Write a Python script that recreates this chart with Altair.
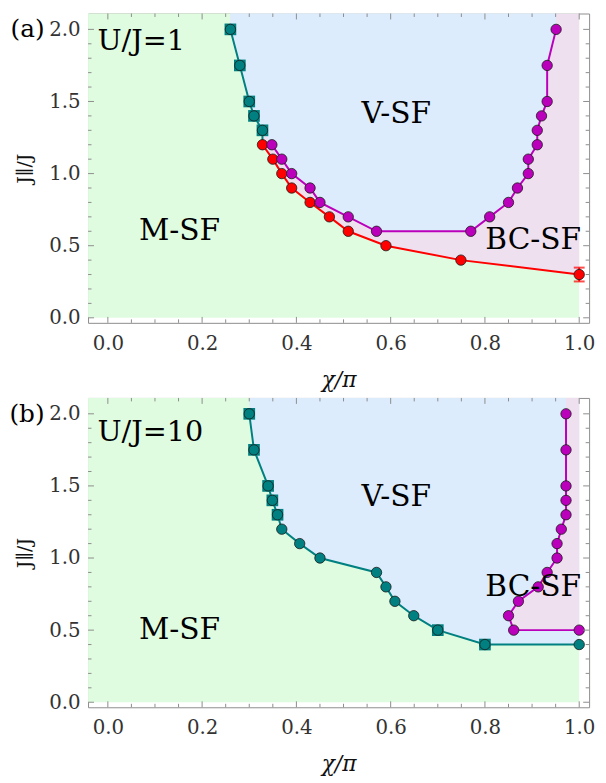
import altair as alt
import pandas as pd

# ---------------- data ----------------
# panel (a)  U/J = 1
TEAL_A_X = [0.26, 0.28, 0.30, 0.31, 0.328]
TEAL_A_Y = [2.0, 1.75, 1.5, 1.4, 1.3]
RED_A_X = [0.328, 0.35, 0.369, 0.39, 0.429, 0.47, 0.51, 0.59, 0.749, 1.0]
RED_A_Y = [1.2, 1.1, 1.0, 0.9, 0.8, 0.7, 0.6, 0.5, 0.4, 0.3]
RED_A_ERR = [0, 0, 0, 0, 0, 0, 0, 0, 0, 0.048]
MAG_A_X = [0.348, 0.369, 0.39, 0.429, 0.45, 0.51, 0.57,
           0.77, 0.81, 0.85, 0.869, 0.892, 0.892, 0.911, 0.911, 0.92, 0.932, 0.932, 0.951]
MAG_A_Y = [1.2, 1.1, 1.0, 0.9, 0.8, 0.7, 0.6,
           0.6, 0.7, 0.8, 0.9, 1.0, 1.1, 1.2, 1.3, 1.4, 1.5, 1.75, 2.0]

# panel (b)  U/J = 10
TEAL_B_X = [0.30, 0.31, 0.34, 0.349, 0.36, 0.369, 0.407, 0.45, 0.57, 0.59, 0.609, 0.649, 0.70, 0.80, 1.0]
TEAL_B_Y = [2.0, 1.75, 1.5, 1.4, 1.3, 1.2, 1.1, 1.0, 0.9, 0.8, 0.7, 0.6, 0.5, 0.4, 0.4]
TEAL_B_BOX = [1, 1, 1, 1, 1, 0, 0, 0, 0, 0, 0, 0, 1, 1, 0]
MAG_B_X = [1.0, 0.861, 0.85, 0.871, 0.913, 0.932, 0.953, 0.953, 0.962, 0.972, 0.972, 0.972, 0.972, 0.972]
MAG_B_Y = [0.5, 0.5, 0.6, 0.7, 0.8, 0.9, 1.0, 1.1, 1.2, 1.3, 1.4, 1.5, 1.75, 2.0]

X_TICKS = [0.0, 0.2, 0.4, 0.6, 0.8, 1.0]
X_MINOR = [0.05, 0.1, 0.15, 0.25, 0.3, 0.35, 0.45, 0.5, 0.55, 0.65, 0.7, 0.75, 0.85, 0.9, 0.95]
Y_TICKS = [0.0, 0.5, 1.0, 1.5, 2.0]
Y_MINOR = [0.1, 0.2, 0.3, 0.4, 0.6, 0.7, 0.8, 0.9, 1.1, 1.2, 1.3, 1.4, 1.6, 1.7, 1.8, 1.9]

LABELS_A = ["M-SF", "V-SF", "BC-SF"]
LABELS_A_X = [0.152, 0.612, 0.9025]
LABELS_A_Y = [0.60, 1.41, 0.54]
LABELS_B_X = [0.152, 0.612, 0.9025]
LABELS_B_Y = [0.50, 1.425, 0.80]

# ---------------- style ----------------
XMIN, XMAX = -0.042, 1.021
YMIN, YMAX = -0.035, 2.11
W, H = 507, 313
GREEN, BLUE, PINK = "#e0fce0", "#dcecfc", "#efe0f0"
TEAL, RED, MAG = "#008080", "#ff0000", "#bb00bb"
FRAME = "#8c8c8c"
FONT = "DejaVu Serif"

xscale = alt.Scale(domain=[XMIN, XMAX], nice=False, zero=False)
yscale = alt.Scale(domain=[YMIN, YMAX], nice=False, zero=False)


def xaxis():
    return alt.Axis(values=X_TICKS, format=".1f", domain=False, ticks=False, grid=False,
                    labelFont=FONT, labelFontSize=20, labelColor="#333", labelPadding=11,
                    labelFlush=False, titleFont=FONT, titleFontSize=22, titleFontStyle="italic",
                    titleFontWeight="normal", titleColor="#111", titlePadding=16)


def yaxis():
    return alt.Axis(values=Y_TICKS, format=".1f", domain=False, ticks=False, grid=False,
                    labelFont=FONT, labelFontSize=20, labelColor="#333", labelPadding=8,
                    labelFlush=False, titleFont=FONT, titleFontSize=19, titleFontWeight="normal",
                    titleColor="#111", titlePadding=14)


def df_xy(xs, ys, **extra):
    d = {"x": xs, "y": ys, "i": list(range(len(xs)))}
    d.update(extra)
    return pd.DataFrame(d)


def area_right(bx, by, color):
    # region between a boundary curve (as function of y) and x = 1.0
    xs = list(bx) + [bx[-1]]
    ys = list(by) + [YMAX]
    d = pd.DataFrame({"x": xs, "y": ys, "x2": [1.0] * len(xs)}).sort_values("y")
    return alt.Chart(d).mark_area(color=color, orient="horizontal", opacity=1).encode(
        y="y:Q", x="x:Q", x2="x2:Q")


def area_between(lx, rx, ys, color):
    xs_l = list(lx) + [lx[-1]]
    xs_r = list(rx) + [rx[-1]]
    yy = list(ys) + [YMAX]
    d = pd.DataFrame({"x": xs_l, "x2": xs_r, "y": yy}).sort_values("y")
    return alt.Chart(d).mark_area(color=color, orient="horizontal", opacity=1).encode(
        y="y:Q", x="x:Q", x2="x2:Q")


def line(xs, ys, color):
    return alt.Chart(df_xy(xs, ys)).mark_line(color=color, strokeWidth=2).encode(
        x="x:Q", y="y:Q", order="i:Q")


def dots(xs, ys, color):
    return alt.Chart(df_xy(xs, ys)).mark_point(
        shape="circle", filled=True, size=110, fill=color, stroke="#1a1a1a",
        strokeWidth=0.8, opacity=1).encode(x="x:Q", y="y:Q")


def boxes(xs, ys, color):
    return alt.Chart(df_xy(xs, ys)).mark_point(
        shape="square", filled=True, size=140, color=color, opacity=1).encode(x="x:Q", y="y:Q")


def ticks():
    layers = []
    for vals, ln in [(X_TICKS, 6), (X_MINOR, 3.5)]:
        d = pd.DataFrame({"v": vals})
        layers.append(alt.Chart(d).mark_rule(color=FRAME, strokeWidth=1).encode(
            x="v:Q", y=alt.value(H), y2=alt.value(H - ln)))
        layers.append(alt.Chart(d).mark_rule(color=FRAME, strokeWidth=1).encode(
            x="v:Q", y=alt.value(0), y2=alt.value(ln)))
    for vals, ln in [(Y_TICKS, 6), (Y_MINOR, 3.5)]:
        d = pd.DataFrame({"v": vals})
        layers.append(alt.Chart(d).mark_rule(color=FRAME, strokeWidth=1).encode(
            y="v:Q", x=alt.value(0), x2=alt.value(ln)))
        layers.append(alt.Chart(d).mark_rule(color=FRAME, strokeWidth=1).encode(
            y="v:Q", x=alt.value(W), x2=alt.value(W - ln)))
    return layers


def texts(names, xs, ys, tag, ulabel, uy):
    d = pd.DataFrame({"x": xs, "y": ys, "t": names})
    regions = alt.Chart(d).mark_text(font=FONT, fontSize=30, color="black",
                                     align="center", baseline="middle").encode(
        x="x:Q", y="y:Q", text="t:N")
    du = pd.DataFrame({"x": [-0.022], "y": [uy], "t": [ulabel]})
    ulab = alt.Chart(du).mark_text(font=FONT, fontSize=29, color="black",
                                   align="left", baseline="middle").encode(
        x="x:Q", y="y:Q", text="t:N")
    dt = pd.DataFrame({"t": [tag]})
    tg = alt.Chart(dt).mark_text(font=FONT, fontSize=25, color="black",
                                 align="right", baseline="middle").encode(
        x=alt.value(-44), y=alt.value(16), text="t:N")
    return [regions, ulab, tg]


def background():
    d = pd.DataFrame({"x0": [XMIN], "x1": [1.0], "y0": [0.0], "y1": [YMAX]})
    return alt.Chart(d).mark_rect(color=GREEN, opacity=1).encode(
        x=alt.X("x0:Q", scale=xscale, axis=xaxis(), title="χ/π"),
        x2="x1:Q",
        y=alt.Y("y0:Q", scale=yscale, axis=yaxis(), title="J∥/J"),
        y2="y1:Q")


# ---------------- panel (a) ----------------
bound_a_x = list(RED_A_X[::-1]) + list(TEAL_A_X[::-1])
bound_a_y = list(RED_A_Y[::-1]) + list(TEAL_A_Y[::-1])
pink_a = area_right(bound_a_x, bound_a_y, PINK)

left_a = dict(zip(MAG_A_Y[:7], MAG_A_X[:7]))
left_a.update(dict(zip(TEAL_A_Y, TEAL_A_X)))
right_a = dict(zip(MAG_A_Y[7:], MAG_A_X[7:]))
ys_a = sorted(right_a.keys())
blue_a = area_between([left_a[y] for y in ys_a], [right_a[y] for y in ys_a], ys_a, BLUE)

err_a = pd.DataFrame({"x": RED_A_X, "lo": [y - e for y, e in zip(RED_A_Y, RED_A_ERR)],
                      "hi": [y + e for y, e in zip(RED_A_Y, RED_A_ERR)]})
err_a = err_a[[e > 0 for e in RED_A_ERR]]
err_rule = alt.Chart(err_a).mark_rule(color=RED, strokeWidth=2).encode(x="x:Q", y="lo:Q", y2="hi:Q")
err_cap1 = alt.Chart(err_a).mark_tick(color=RED, thickness=2, size=11, orient="horizontal").encode(x="x:Q", y="lo:Q")
err_cap2 = alt.Chart(err_a).mark_tick(color=RED, thickness=2, size=11, orient="horizontal").encode(x="x:Q", y="hi:Q")

panel_a = alt.layer(
    background(), pink_a, blue_a,
    line(TEAL_A_X + RED_A_X[:1], TEAL_A_Y + RED_A_Y[:1], TEAL),
    line(RED_A_X, RED_A_Y, RED),
    line(MAG_A_X, MAG_A_Y, MAG),
    err_rule, err_cap1, err_cap2,
    boxes(TEAL_A_X, TEAL_A_Y, TEAL),
    dots(TEAL_A_X, TEAL_A_Y, TEAL),
    dots(RED_A_X, RED_A_Y, RED),
    dots(MAG_A_X, MAG_A_Y, MAG),
    *ticks(),
    *texts(LABELS_A, LABELS_A_X, LABELS_A_Y, "(a)", "U/J=1", 1.92),
).properties(width=W, height=H)

# ---------------- panel (b) ----------------
blue_b = area_right(TEAL_B_X[:-1][::-1], TEAL_B_Y[:-1][::-1], BLUE)
pink_b = area_right(MAG_B_X[1:], MAG_B_Y[1:], PINK)
bx = [x for x, f in zip(TEAL_B_X, TEAL_B_BOX) if f]
by = [y for y, f in zip(TEAL_B_Y, TEAL_B_BOX) if f]

panel_b = alt.layer(
    background(), blue_b, pink_b,
    line(TEAL_B_X, TEAL_B_Y, TEAL),
    line(MAG_B_X, MAG_B_Y, MAG),
    boxes(bx, by, TEAL),
    dots(TEAL_B_X, TEAL_B_Y, TEAL),
    dots(MAG_B_X, MAG_B_Y, MAG),
    *ticks(),
    *texts(LABELS_A, LABELS_B_X, LABELS_B_Y, "(b)", "U/J=10", 1.87),
).properties(width=W, height=H)

chart = alt.vconcat(panel_a, panel_b, spacing=6).properties(
    padding={"left": 0, "top": 0, "right": 2, "bottom": 0}
).configure_view(stroke=FRAME, strokeWidth=1)

chart.save("out.html", embed_options={"renderer": "svg", "actions": False})
